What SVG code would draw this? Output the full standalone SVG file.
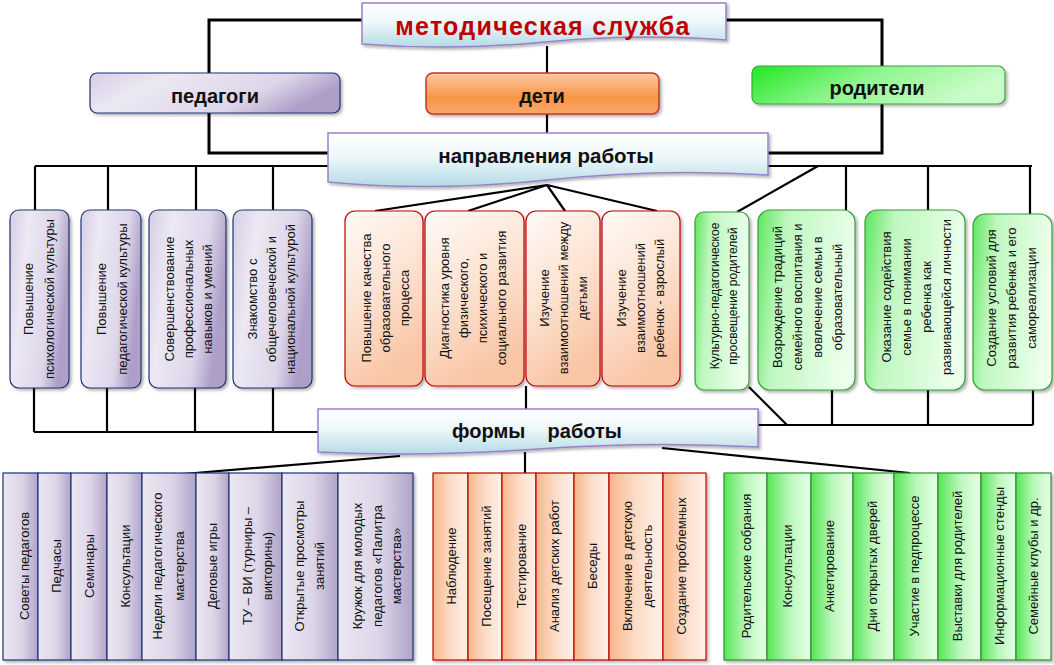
<svg xmlns="http://www.w3.org/2000/svg" width="1054" height="665" viewBox="0 0 1054 665">
<defs>
<linearGradient id="gTitle" x1="0" y1="0" x2="0" y2="1"><stop offset="0" stop-color="#ffffff"/><stop offset="0.45" stop-color="#eef7fa"/><stop offset="1" stop-color="#b4dbe7"/></linearGradient>
<linearGradient id="gPur" x1="0" y1="0" x2="1" y2="0.3"><stop offset="0" stop-color="#d6cee5"/><stop offset="0.3" stop-color="#ece8f3"/><stop offset="0.75" stop-color="#ddd6e9"/><stop offset="1" stop-color="#ad9fc8"/></linearGradient>
<linearGradient id="gPurCol" x1="0" y1="0" x2="1" y2="0"><stop offset="0" stop-color="#ebe7f2"/><stop offset="0.55" stop-color="#dcd5e8"/><stop offset="1" stop-color="#b0a3c9"/></linearGradient>
<linearGradient id="gRed" x1="0" y1="0" x2="0.35" y2="1"><stop offset="0" stop-color="#fffaf7"/><stop offset="0.5" stop-color="#fde4d4"/><stop offset="1" stop-color="#f9c6a6"/></linearGradient>
<linearGradient id="gRedCol" x1="0" y1="0" x2="1" y2="0"><stop offset="0" stop-color="#f7b68b"/><stop offset="0.5" stop-color="#fcdcc8"/><stop offset="1" stop-color="#fff1e8"/></linearGradient>
<linearGradient id="gGrn" x1="0" y1="0" x2="1" y2="0.2"><stop offset="0" stop-color="#5ee65e"/><stop offset="0.3" stop-color="#bff7bf"/><stop offset="1" stop-color="#ebffeb"/></linearGradient>
<linearGradient id="gGrnCol" x1="0" y1="0" x2="1" y2="0"><stop offset="0" stop-color="#55e655"/><stop offset="0.5" stop-color="#b9f7b9"/><stop offset="1" stop-color="#e8ffe8"/></linearGradient>
<linearGradient id="gOrg" x1="0" y1="0" x2="0" y2="1"><stop offset="0" stop-color="#fcc9a4"/><stop offset="0.6" stop-color="#f79646"/><stop offset="1" stop-color="#f9a86e"/></linearGradient>
<linearGradient id="gRod" x1="0" y1="0" x2="1" y2="0.3"><stop offset="0" stop-color="#22e822"/><stop offset="0.5" stop-color="#8ff58f"/><stop offset="1" stop-color="#cafcca"/></linearGradient>
<filter id="sh" x="-10%" y="-10%" width="130%" height="130%"><feDropShadow dx="2" dy="2" stdDeviation="1.5" flood-color="#000" flood-opacity="0.3"/></filter>
</defs>
<style>
.ln{fill:none;stroke:#000;stroke-width:2.2}
.lnT{fill:none;stroke:#000;stroke-width:3}
.hdr{fill:url(#gTitle);stroke:#9a80c8;stroke-width:1.5}
.pur{fill:url(#gPur);stroke:#1f3470;stroke-width:1.2}
.red{fill:url(#gRed);stroke:#c00000;stroke-width:1.2}
.grn{fill:url(#gGrn);stroke:#3a9a3a;stroke-width:1.2}
.pc{fill:url(#gPurCol);stroke:#1f3470;stroke-width:1.2}
.rc{fill:url(#gRedCol);stroke:#c00000;stroke-width:1.2}
.gc{fill:url(#gGrnCol);stroke:#2f8f2f;stroke-width:1.2}
text{font-family:"Liberation Sans",Arial,sans-serif;fill:#111}
.t{font-size:13px;text-anchor:middle}
.ts{font-size:12px;text-anchor:middle}
.h{font-size:20px;font-weight:bold;text-anchor:middle}
.ttl{font-size:25px;font-weight:bold;fill:#c00000;text-anchor:middle;letter-spacing:1.3px}
</style>

<g id="connectors">
<path class="lnT" d="M362,20 H209 V73"/>
<path class="lnT" d="M725,20 H882 V66"/>
<path class="ln" d="M547,46 V73"/>
<path class="ln" d="M547,113 V133"/>
<path class="lnT" d="M209,113 V153 H328"/>
<path class="lnT" d="M882,104 V153 H768"/>
<path class="ln" d="M35,166 H1032"/>
<path class="ln" d="M35,166 V210 M108,166 V210 M196,166 V210 M273,166 V210"/>
<path class="ln" d="M846,166 V210 M928,166 V210 M1030,166 V214"/>
<path class="ln" d="M818,166 L737,212"/>
<path class="ln" d="M547,185 L375,211 M547,185 L468,211 M547,185 L565,211 M547,185 L657,211"/>
<path class="ln" d="M34,388 V432 M107,388 V432 M195,388 V432 M273,388 V432 M34,432 H318"/>
<path class="ln" d="M526,386 V409"/>
<path class="ln" d="M758,425 H1033 M832,390 V425 M928,390 V425 M1033,390 V425 M749,387 L787,425"/>
<path class="ln" d="M525,452 V473"/>
<path class="ln" d="M400,456 L183,474"/>
<path class="ln" d="M662,448 L910,473"/>
</g>

<g id="metod">
<path class="hdr" filter="url(#sh)" d="M362,3 H726 V40 Q 640,33 545,42 T 362,44 Z"/>
<text class="ttl" x="543" y="35">методическая служба</text>
</g>
<g id="pedagogi">
<rect class="pur" filter="url(#sh)" x="90" y="73" width="250" height="40" rx="7"/>
<text class="h" x="215" y="103">педагоги</text>
</g>
<g id="deti">
<rect filter="url(#sh)" x="426" y="73" width="233" height="41" rx="7" fill="url(#gOrg)" stroke="#c0392b" stroke-width="1.5"/>
<text class="h" x="542" y="103">дети</text>
</g>
<g id="roditeli">
<rect filter="url(#sh)" x="752" y="66" width="253" height="38" rx="7" fill="url(#gRod)" stroke="#3aa53a" stroke-width="1.2"/>
<text class="h" x="877" y="95">родители</text>
</g>
<g id="napravleniya">
<path class="hdr" filter="url(#sh)" d="M328,133 H768 V175 Q 660,168 547,180 T 328,182 Z"/>
<text class="h" x="546" y="163" style="font-size:20.5px">направления работы</text>
</g>

<g id="dir-ped1"><rect class="pur" filter="url(#sh)" x="10" y="210" width="59" height="178" rx="9"/>
<text class="t" transform="translate(33,299) rotate(-90)"><tspan x="0" y="0">Повышение</tspan><tspan x="0" y="21">психологической культуры</tspan></text></g>
<g id="dir-ped2"><rect class="pur" filter="url(#sh)" x="81" y="210" width="60" height="178" rx="9"/>
<text class="t" transform="translate(106,299) rotate(-90)"><tspan x="0" y="0">Повышение</tspan><tspan x="0" y="21">педагогической культуры</tspan></text></g>
<g id="dir-ped3"><rect class="pur" filter="url(#sh)" x="149" y="210" width="77" height="178" rx="9"/>
<text class="t" transform="translate(174,299) rotate(-90)"><tspan x="0" y="0">Совершенствование</tspan><tspan x="0" y="19">профессиональных</tspan><tspan x="0" y="38">навыков  и умений</tspan></text></g>
<g id="dir-ped4"><rect class="pur" filter="url(#sh)" x="233" y="210" width="79" height="178" rx="9"/>
<text class="t" transform="translate(257,299) rotate(-90)"><tspan x="0" y="0">Знакомство с</tspan><tspan x="0" y="19">общечеловеческой  и</tspan><tspan x="0" y="38">национальной культурой</tspan></text></g>

<g id="dir-det1"><rect class="red" filter="url(#sh)" x="345" y="211" width="78" height="175" rx="10"/>
<text class="t" transform="translate(371,298) rotate(-90)"><tspan x="0" y="0">Повышение качества</tspan><tspan x="0" y="19">образовательного</tspan><tspan x="0" y="38">процесса</tspan></text></g>
<g id="dir-det2"><rect class="red" filter="url(#sh)" x="425" y="211" width="99" height="175" rx="10"/>
<text class="t" transform="translate(449,298) rotate(-90)"><tspan x="0" y="0">Диагностика уровня</tspan><tspan x="0" y="19">физического,</tspan><tspan x="0" y="38">психического и</tspan><tspan x="0" y="57">социального развития</tspan></text></g>
<g id="dir-det3"><rect class="red" filter="url(#sh)" x="526" y="211" width="74" height="175" rx="10"/>
<text class="t" transform="translate(549,298) rotate(-90)"><tspan x="0" y="0">Изучение</tspan><tspan x="0" y="19">взаимоотношений между</tspan><tspan x="0" y="38">детьми</tspan></text></g>
<g id="dir-det4"><rect class="red" filter="url(#sh)" x="602" y="211" width="78" height="175" rx="10"/>
<text class="t" transform="translate(626,298) rotate(-90)"><tspan x="0" y="0">Изучение</tspan><tspan x="0" y="19">взаимоотношений</tspan><tspan x="0" y="38">ребенок - взрослый</tspan></text></g>

<g id="dir-rod1"><rect class="grn" filter="url(#sh)" x="695" y="212" width="54" height="178" rx="9"/>
<text class="ts" transform="translate(719,296) rotate(-90)"><tspan x="0" y="0">Культурно-педагогическое</tspan><tspan x="0" y="18">просвещение родителей</tspan></text></g>
<g id="dir-rod2"><rect class="grn" filter="url(#sh)" x="758" y="210" width="97" height="180" rx="12"/>
<text class="t" transform="translate(782,297) rotate(-90)"><tspan x="0" y="0">Возрождение традиций</tspan><tspan x="0" y="20">семейного воспитания и</tspan><tspan x="0" y="40">вовлечение семьи в</tspan><tspan x="0" y="60">образовательный</tspan></text></g>
<g id="dir-rod3"><rect class="grn" filter="url(#sh)" x="865" y="210" width="100" height="180" rx="12"/>
<text class="t" transform="translate(891,297) rotate(-90)"><tspan x="0" y="0">Оказание содействия</tspan><tspan x="0" y="20">семье в понимании</tspan><tspan x="0" y="40">ребенка как</tspan><tspan x="0" y="60">развивающейся личности</tspan></text></g>
<g id="dir-rod4"><rect class="grn" filter="url(#sh)" x="973" y="214" width="79" height="176" rx="12"/>
<text class="t" transform="translate(996,298) rotate(-90)"><tspan x="0" y="0">Создание условий для</tspan><tspan x="0" y="20">развития ребенка  и его</tspan><tspan x="0" y="40">самореализации</tspan></text></g>

<g id="formy">
<path class="hdr" filter="url(#sh)" d="M318,409 H758 V447 Q 650,441 538,449 T 318,452 Z"/>
<text class="h" x="537" y="438" xml:space="preserve">формы    работы</text>
</g>

<g id="forms-ped" filter="url(#sh)">
<rect class="pc" x="3" y="473" width="35" height="187"/>
<rect class="pc" x="38" y="473" width="33" height="187"/>
<rect class="pc" x="71" y="473" width="36" height="187"/>
<rect class="pc" x="107" y="473" width="35" height="187"/>
<rect class="pc" x="142" y="473" width="54" height="187"/>
<rect class="pc" x="196" y="473" width="33" height="187"/>
<rect class="pc" x="229" y="473" width="53" height="187"/>
<rect class="pc" x="282" y="473" width="56" height="187"/>
<rect class="pc" x="338" y="473" width="75" height="187"/>
</g>
<g id="forms-ped-text">
<text class="t" transform="translate(29,566) rotate(-90)">Советы педагогов</text>
<text class="t" transform="translate(61,566) rotate(-90)">Педчасы</text>
<text class="t" transform="translate(94,566) rotate(-90)">Семинары</text>
<text class="t" transform="translate(130,566) rotate(-90)">Консультации</text>
<text class="t" transform="translate(162,566) rotate(-90)"><tspan x="0" y="0">Недели педагогического</tspan><tspan x="0" y="22">мастерства</tspan></text>
<text class="t" transform="translate(217,566) rotate(-90)">Деловые игры</text>
<text class="t" transform="translate(252,566) rotate(-90)"><tspan x="0" y="0">ТУ – ВИ (турниры –</tspan><tspan x="0" y="20">викторины)</tspan></text>
<text class="t" transform="translate(304,566) rotate(-90)"><tspan x="0" y="0">Открытые просмотры</tspan><tspan x="0" y="20">занятий</tspan></text>
<text class="t" transform="translate(362,566) rotate(-90)"><tspan x="0" y="0">Кружок  для молодых</tspan><tspan x="0" y="19.5">педагогов  «Палитра</tspan><tspan x="0" y="39">мастерства»</tspan></text>
</g>

<g id="forms-det" filter="url(#sh)">
<rect class="rc" x="433" y="473" width="35" height="187"/>
<rect class="rc" x="468" y="473" width="34" height="187"/>
<rect class="rc" x="502" y="473" width="34" height="187"/>
<rect class="rc" x="536" y="473" width="38" height="187"/>
<rect class="rc" x="574" y="473" width="35" height="187"/>
<rect class="rc" x="609" y="473" width="54" height="187"/>
<rect class="rc" x="663" y="473" width="43" height="187"/>
</g>
<g id="forms-det-text">
<text class="t" transform="translate(456,566) rotate(-90)">Наблюдение</text>
<text class="t" transform="translate(491,566) rotate(-90)">Посещение занятий</text>
<text class="t" transform="translate(526,566) rotate(-90)">Тестирование</text>
<text class="t" transform="translate(559,566) rotate(-90)">Анализ детских работ</text>
<text class="t" transform="translate(597,566) rotate(-90)">Беседы</text>
<text class="t" transform="translate(632,566) rotate(-90)"><tspan x="0" y="0">Включение в детскую</tspan><tspan x="0" y="20">деятельность</tspan></text>
<text class="t" transform="translate(686,566) rotate(-90)">Создание проблемных</text>
</g>

<g id="forms-rod" filter="url(#sh)">
<rect class="gc" x="724" y="473" width="43" height="187"/>
<rect class="gc" x="767" y="473" width="44" height="187"/>
<rect class="gc" x="811" y="473" width="42" height="187"/>
<rect class="gc" x="853" y="473" width="41" height="187"/>
<rect class="gc" x="894" y="473" width="44" height="187"/>
<rect class="gc" x="938" y="473" width="43" height="187"/>
<rect class="gc" x="981" y="473" width="35" height="187"/>
<rect class="gc" x="1016" y="473" width="35" height="187"/>
</g>
<g id="forms-rod-text">
<text class="t" transform="translate(751,566) rotate(-90)">Родительские собрания</text>
<text class="t" transform="translate(792,566) rotate(-90)">Консультации</text>
<text class="t" transform="translate(834,566) rotate(-90)">Анкетирование</text>
<text class="t" transform="translate(877,566) rotate(-90)">Дни открытых дверей</text>
<text class="t" transform="translate(919,566) rotate(-90)">Участие в педпроцессе</text>
<text class="t" transform="translate(962,566) rotate(-90)">Выставки для родителей</text>
<text class="t" transform="translate(1004,566) rotate(-90)">Информационные стенды</text>
<text class="t" transform="translate(1038,566) rotate(-90)">Семейные клубы и др.</text>
</g>
</svg>
